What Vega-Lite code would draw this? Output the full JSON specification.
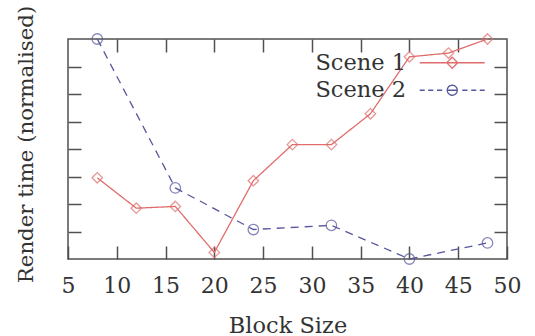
{
  "$schema": "https://vega.github.io/schema/vega-lite/v6.json",
  "width": 439,
  "height": 220,
  "autosize": "none",
  "padding": {"left": 68, "top": 39, "right": 28, "bottom": 77},
  "background": "white",
  "config": {
    "view": {"stroke": "#505050", "strokeWidth": 1.5},
    "font": "DejaVu Serif",
    "axis": {
      "grid": false, "domain": false, "tickSize": -13, "tickColor": "#505050", "tickWidth": 1.5,
      "labelFont": "DejaVu Serif", "labelFontSize": 22, "labelColor": "#333333",
      "titleFont": "DejaVu Serif", "titleFontSize": 22.5, "titleFontWeight": "normal", "titleColor": "#333333"
    }
  },
  "data": {"values": [
    {"x": 8, "y": 0.369, "series": "Scene 1"},
    {"x": 12, "y": 0.231, "series": "Scene 1"},
    {"x": 16, "y": 0.239, "series": "Scene 1"},
    {"x": 20, "y": 0.030, "series": "Scene 1"},
    {"x": 24, "y": 0.356, "series": "Scene 1"},
    {"x": 28, "y": 0.520, "series": "Scene 1"},
    {"x": 32, "y": 0.520, "series": "Scene 1"},
    {"x": 36, "y": 0.660, "series": "Scene 1"},
    {"x": 40, "y": 0.919, "series": "Scene 1"},
    {"x": 44, "y": 0.936, "series": "Scene 1"},
    {"x": 48, "y": 1.0, "series": "Scene 1"},
    {"x": 8, "y": 1.0, "series": "Scene 2"},
    {"x": 16, "y": 0.323, "series": "Scene 2"},
    {"x": 24, "y": 0.134, "series": "Scene 2"},
    {"x": 32, "y": 0.153, "series": "Scene 2"},
    {"x": 40, "y": 0.0, "series": "Scene 2"},
    {"x": 48, "y": 0.073, "series": "Scene 2"}
  ]},
  "layer": [
    {
      "mark": {"type": "line", "strokeWidth": 1.3, "clip": false},
      "encoding": {
        "x": {"field": "x", "type": "quantitative",
          "scale": {"domain": [5, 50], "nice": false, "zero": false},
          "axis": {"orient": "bottom", "values": [5, 10, 15, 20, 25, 30, 35, 40, 45, 50],
            "labelFlush": false, "labelOverlap": false, "labelPadding": 46, "labelBaseline": "alphabetic",
            "title": "Block Size", "titleBaseline": "alphabetic", "titleY": 73}},
        "y": {"field": "y", "type": "quantitative",
          "scale": {"domain": [0, 1], "nice": false, "zero": false},
          "axis": {"orient": "left", "values": [0.125, 0.25, 0.375, 0.5, 0.625, 0.75, 0.875],
            "labels": false, "title": "Render time (normalised)", "titleFontSize": 21.3,
            "titleX": -36, "titleY": 105, "titleBaseline": "alphabetic"}},
        "color": {"field": "series", "type": "nominal",
          "scale": {"domain": ["Scene 1", "Scene 2"], "range": ["#e06c6c", "#56569c"]},
          "legend": {"orient": "none", "legendX": 373, "legendY": 12.5, "title": null,
            "labelAlign": "right", "labelOffset": -57.5, "labelFont": "DejaVu Serif",
            "labelFontSize": 22.5, "labelColor": "#333333", "labelLimit": 400,
            "symbolSize": 100, "symbolStrokeWidth": 1.3, "rowPadding": 4.5,
            "encode": {"symbols": {"update": {
              "shape": {"signal": "datum.value === 'Scene 1' ? 'M-6.5,0H6.5M0,-1.1L1.1,0L0,1.1L-1.1,0Z' : 'M-6.5,0H-5.5M-4.8,0H-3.8M-3.05,0H-2M-1,0H1M2,0H3.05M3.8,0H4.8M5.5,0H6.5M1,0A1,1 0 1,1 -1,0A1,1 0 1,1 1,0'"},
              "fill": {"value": "transparent"},
              "strokeDash": {"value": [1, 0]}
            }}}}},
        "strokeDash": {"field": "series", "type": "nominal",
          "scale": {"domain": ["Scene 1", "Scene 2"], "range": [[1, 0], [8, 6]]}, "legend": null}
      }
    },
    {
      "mark": {"type": "point", "filled": false, "strokeWidth": 1.3, "size": 110, "clip": false},
      "encoding": {
        "x": {"field": "x", "type": "quantitative",
          "scale": {"domain": [5, 50], "nice": false, "zero": false},
          "axis": {"orient": "top", "values": [10, 15, 20, 25, 30, 35, 40, 45], "labels": false, "title": null}},
        "y": {"field": "y", "type": "quantitative",
          "scale": {"domain": [0, 1], "nice": false, "zero": false},
          "axis": {"orient": "right", "values": [0.125, 0.25, 0.375, 0.5, 0.625, 0.75, 0.875], "labels": false, "title": null}},
        "color": {"field": "series", "type": "nominal",
          "scale": {"domain": ["Scene 1", "Scene 2"], "range": ["#e06c6c", "#56569c"]}, "legend": null},
        "shape": {"field": "series", "type": "nominal",
          "scale": {"domain": ["Scene 1", "Scene 2"], "range": ["diamond", "circle"]}, "legend": null}
      }
    }
  ],
  "resolve": {"axis": {"x": "independent", "y": "independent"}, "legend": {"color": "independent"}}
}
